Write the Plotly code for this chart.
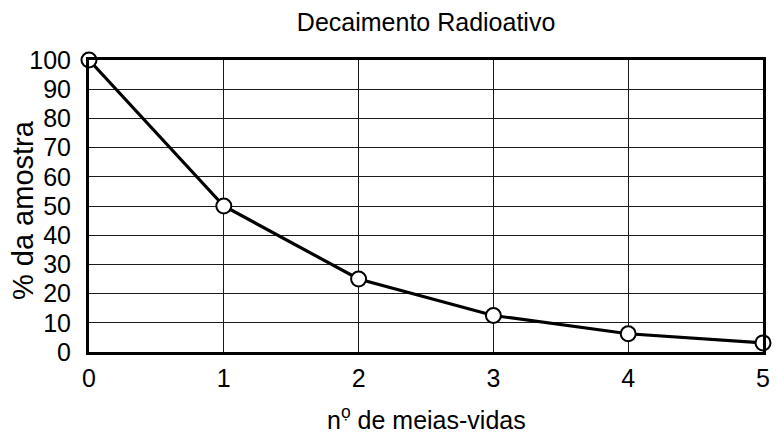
import plotly.graph_objects as go

# Half-lives elapsed and remaining percentage of the sample
meias_vidas = [0, 1, 2, 3, 4, 5]
percentual = [100, 50, 25, 12.5, 6.25, 3.125]
y_ticks = [0, 10, 20, 30, 40, 50, 60, 70, 80, 90, 100]
x_ticks = [0, 1, 2, 3, 4, 5]

FONT = "Liberation Sans, Arial, sans-serif"

fig = go.Figure()
fig.add_trace(go.Scatter(
    x=meias_vidas, y=percentual,
    mode="lines+markers",
    line=dict(color="black", width=3.2),
    marker=dict(symbol="circle", size=15, color="white",
                line=dict(color="black", width=2)),
    cliponaxis=False,
    showlegend=False,
))

axis_common = dict(
    showline=True, linecolor="black", linewidth=3, mirror=True,
    showgrid=True, gridcolor="#1a1a1a", gridwidth=1.3,
    zeroline=False, ticks="", color="black",
    tickfont=dict(family=FONT, size=25, color="black"),
)

fig.update_layout(
    width=779, height=433,
    margin=dict(l=89, r=9, t=60, b=81),
    paper_bgcolor="white", plot_bgcolor="white",
    font=dict(family=FONT, color="black"),
    title=dict(text="Decaimento Radioativo", x=0.547, xanchor="center",
               y=0.949, yanchor="middle",
               font=dict(family=FONT, size=25, color="black")),
    xaxis=dict(range=[0, 5], tickvals=x_ticks, ticklabelstandoff=2,
               **axis_common),
    yaxis=dict(range=[0, 100], tickvals=y_ticks, ticklabelstandoff=10,
               **axis_common),
    annotations=[
        # ordinal "o" with a dot beneath it
        dict(text="n<sup>o\u0323</sup> de meias-vidas", xref="paper", yref="paper",
             x=0.5, y=-0.226, xanchor="center", yanchor="middle",
             showarrow=False,
             font=dict(family=FONT, size=25, color="black")),
        dict(text="% da amostra", xref="paper", yref="paper",
             x=-0.098, y=0.486, xanchor="center", yanchor="middle",
             textangle=-90, showarrow=False,
             font=dict(family=FONT, size=29, color="black")),
    ],
)

fig.write_html("out.html")
